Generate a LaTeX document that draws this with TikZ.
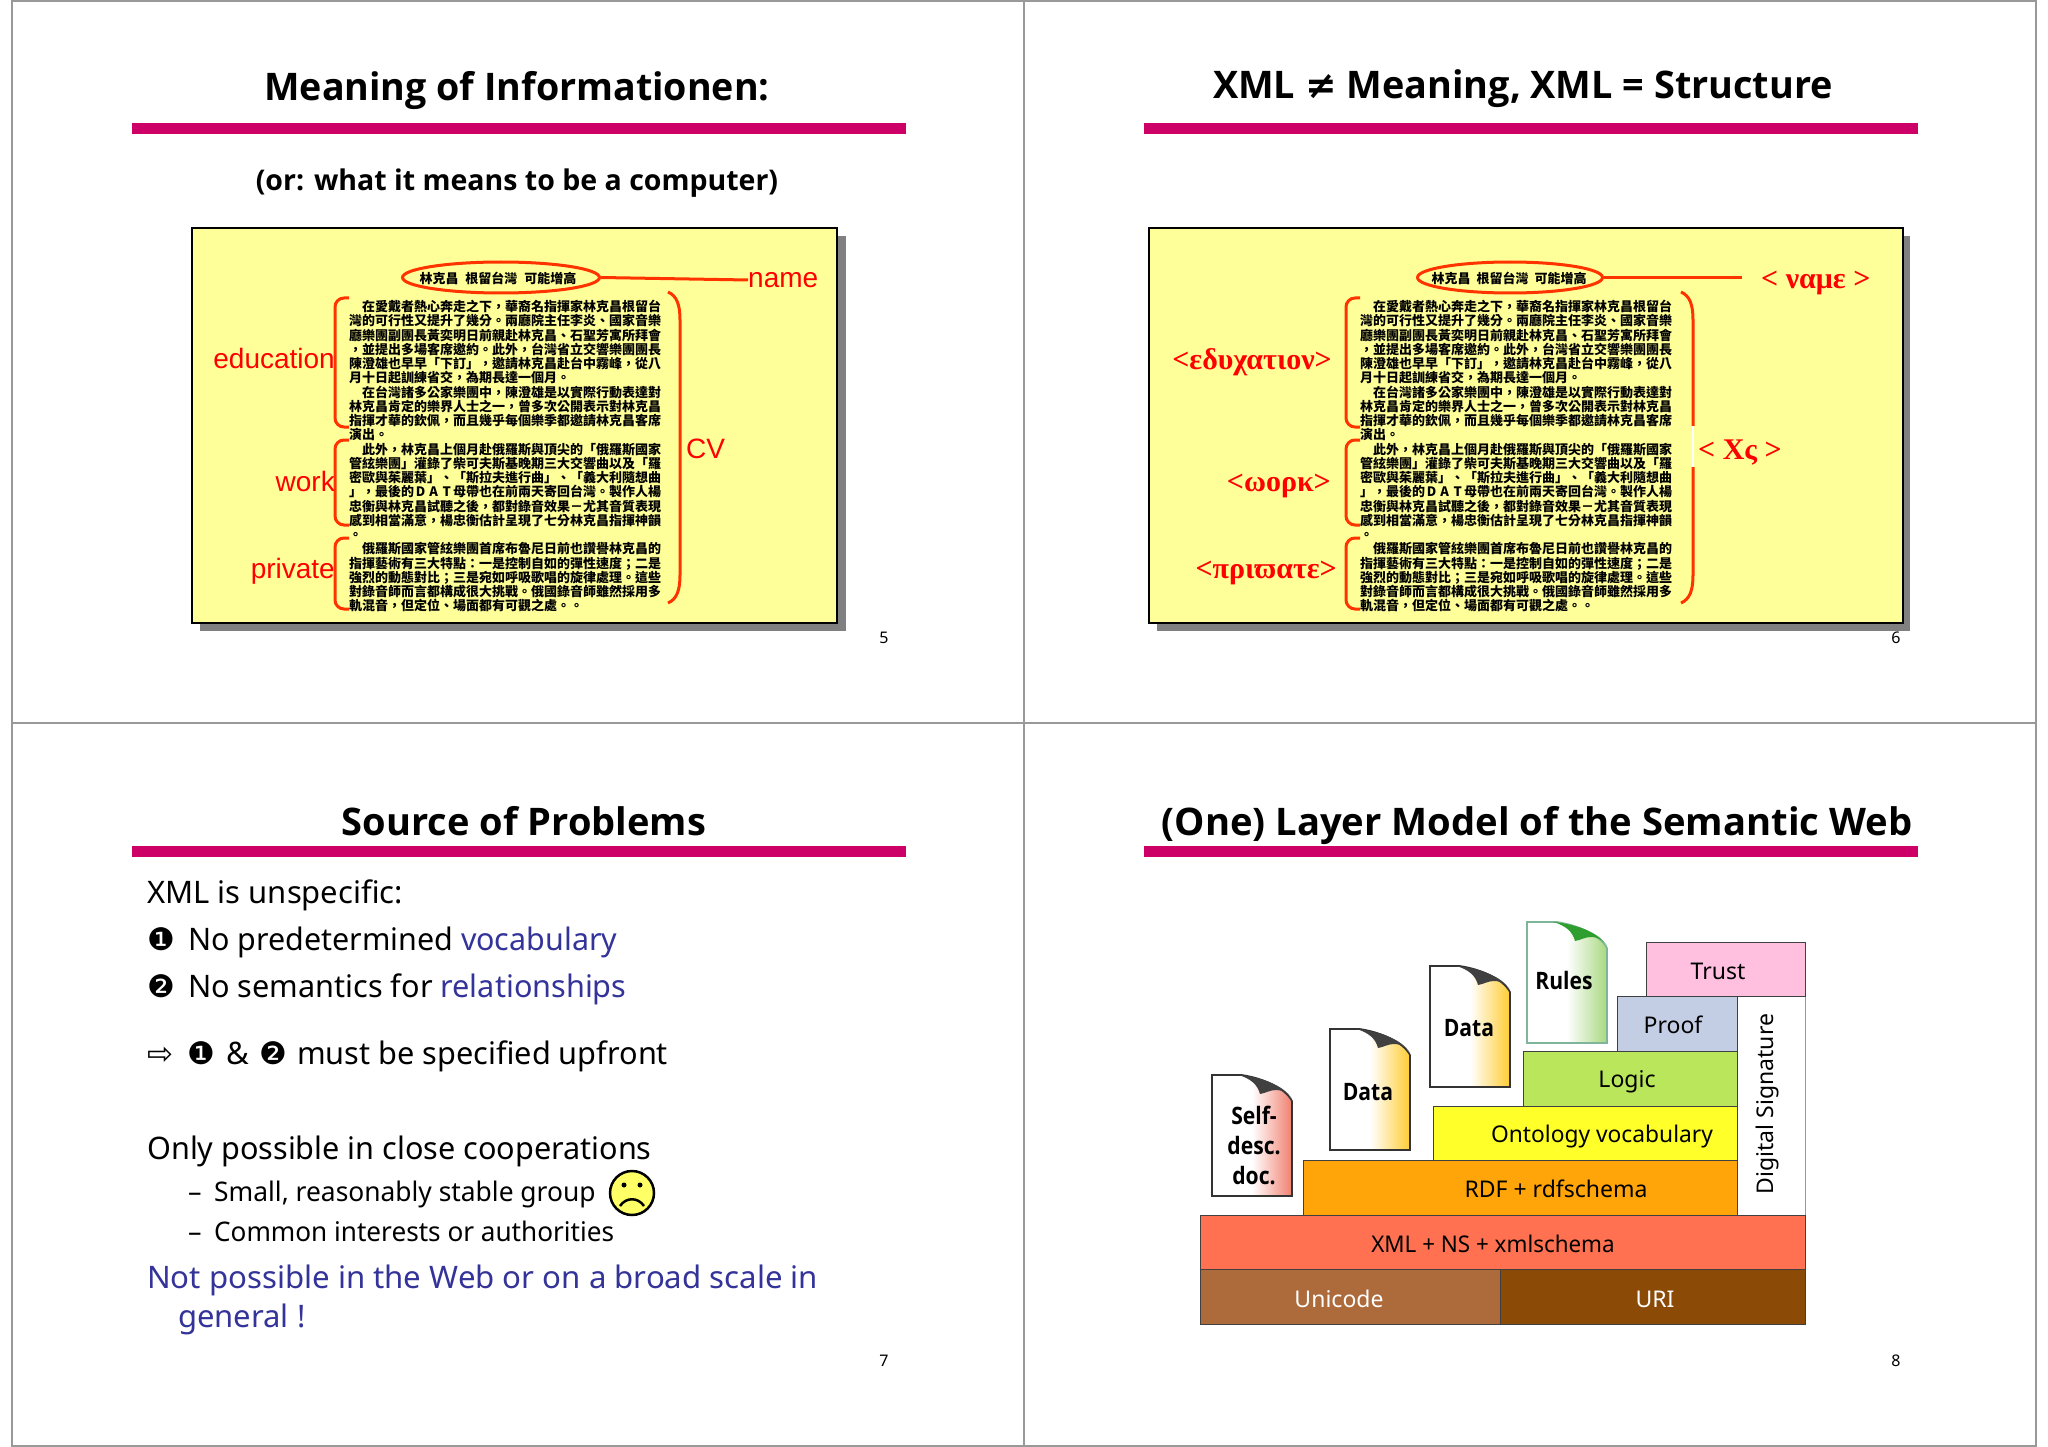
\documentclass[tikz,border=0pt]{standalone}
\usepackage{fontspec}
\usepackage{graphicx}
\usetikzlibrary{shapes.geometric}
\setmainfont{Noto Sans}
\newfontfamily\bodyf{Noto Sans}
\newfontfamily\ttlf{Open Sans}
\newfontfamily\lblf{Liberation Sans}
\newfontfamily\grkf{Liberation Serif}
\newfontfamily\cjk{Noto Sans CJK TC}
\newfontfamily\symf{DejaVu Sans}
\newcommand{\sx}[2]{\scalebox{#1}[1]{#2}}
\definecolor{barc}{HTML}{CC0066}
\definecolor{gridc}{HTML}{999999}
\definecolor{slideyel}{HTML}{FFFF99}
\definecolor{redl}{HTML}{FF0000}
\definecolor{redb}{HTML}{FF3300}
\definecolor{bluet}{HTML}{333399}
\definecolor{shadowc}{HTML}{808080}
\definecolor{cUni}{HTML}{AD6A3A}
\definecolor{cUri}{HTML}{8B4A06}
\definecolor{cXml}{HTML}{FF7150}
\definecolor{cRdf}{HTML}{FFA50A}
\definecolor{cOnt}{HTML}{FFFF2A}
\definecolor{cLog}{HTML}{B9E65A}
\definecolor{cPrf}{HTML}{C3CDE4}
\definecolor{cTru}{HTML}{FFC0E0}
\definecolor{cDocR}{HTML}{F08070}
\definecolor{cDocY}{HTML}{FFCC33}
\definecolor{cDocG}{HTML}{A8D880}
\definecolor{cCurl}{HTML}{404040}
\definecolor{cCurlG}{HTML}{2E9E2E}
\definecolor{cRuleB}{HTML}{7FB59A}
\definecolor{cSmile}{HTML}{FFFF66}
\tikzset{
  gridline/.style={draw=gridc,line width=2pt},
  titlebar/.style={fill=barc,draw=none},
  slidetitle/.style={font=\ttlf\bfseries\fontsize{38}{44}\selectfont,text=black,inner sep=0pt,anchor=base},
  pagenum/.style={font=\bodyf\fontsize{16}{18}\selectfont,inner sep=0pt},
  slideframe/.style={fill=slideyel,draw=black,line width=2.5pt},
  frameshadow/.style={fill=shadowc,draw=none},
  redlbl/.style={font=\lblf\fontsize{28}{32}\selectfont,text=redl,inner sep=0pt},
  grklbl/.style={font=\grkf\bfseries\fontsize{30}{34}\selectfont,text=redl,inner sep=0pt},
  bracket/.style={draw=redb,line width=3pt,rounded corners=9pt},
  rbracket/.style={draw=redb,line width=3pt},
  ringe/.style={ellipse,draw=redb,line width=3pt,inner sep=0pt,fill=none},
  redline/.style={draw=redb,line width=3pt},
  cvblock/.style={align=left,inner sep=0pt,anchor=north west,font=\cjk\bfseries\fontsize{13}{14.25}\selectfont,text=black},
  cvhead/.style={inner sep=0pt,font=\cjk\bfseries\fontsize{13}{14}\selectfont,text=black},
  bodytext/.style={font=\bodyf\fontsize{31}{36}\selectfont,inner sep=0pt,anchor=base west},
  subtext/.style={font=\bodyf\fontsize{27}{32}\selectfont,inner sep=0pt,anchor=base west},
  layer/.style={draw=black!75,line width=1pt},
  layertext/.style={font=\bodyf\fontsize{23}{27}\selectfont,inner sep=0pt},
  doctext/.style={font=\ttlf\bfseries\fontsize{24}{30}\selectfont,inner sep=0pt,align=center},
}
\newcommand{\datw}{\makebox[13pt]{D}\makebox[13pt]{A}\makebox[13pt]{T}}
\newcommand{\cvlines}{%
　在愛戴者熱心奔走之下，華裔名指揮家林克昌根留台\\
灣的可行性又提升了幾分。兩廳院主任李炎、國家音樂\\
廳樂團副團長黃奕明日前親赴林克昌、石聖芳寓所拜會\\
，並提出多場客席邀約。此外，台灣省立交響樂團團長\\
陳澄雄也早早「下訂」，邀請林克昌赴台中霧峰，從八\\
月十日起訓練省交，為期長達一個月。\\
　在台灣諸多公家樂團中，陳澄雄是以實際行動表達對\\
林克昌肯定的樂界人士之一，曾多次公開表示對林克昌\\
指揮才華的欽佩，而且幾乎每個樂季都邀請林克昌客席\\
演出。\\
　此外，林克昌上個月赴俄羅斯與頂尖的「俄羅斯國家\\
管絃樂團」灌錄了柴可夫斯基晚期三大交響曲以及「羅\\
密歐與茱麗葉」、「斯拉夫進行曲」、「義大利隨想曲\\
」，最後的\datw 母帶也在前兩天寄回台灣。製作人楊\\
忠衡與林克昌試聽之後，都對錄音效果－尤其音質表現\\
感到相當滿意，楊忠衡估計呈現了七分林克昌指揮神韻\\
。\\
　俄羅斯國家管絃樂團首席布魯尼日前也讚譽林克昌的\\
指揮藝術有三大特點：一是控制自如的彈性速度；二是\\
強烈的動態對比；三是宛如呼吸歌唱的旋律處理。這些\\
對錄音師而言都構成很大挑戰。俄國錄音師雖然採用多\\
軌混音，但定位、場面都有可觀之處。。}
% doc shape: x y fill border curl
\newcommand{\docshape}[5]{%
  \begin{scope}[shift={(#1,#2)}]
    \path[draw=#4,line width=1.6pt,left color=white,right color=#3,middle color=white]
      (0,0) -- (30,0) .. controls (50,3) and (72,12) .. (80,26) -- (80,121) -- (0,121) -- cycle;
    \fill[#5] (26,0) .. controls (48,2) and (72,10) .. (80,24)
      .. controls (78,20) and (72,15) .. (64,15)
      .. controls (58,15) and (54,18) .. (48,19)
      .. controls (46,10) and (38,3) .. (26,0) -- cycle;
  \end{scope}}
\begin{document}
\begin{tikzpicture}[x=1pt,y=-1pt]
\useasboundingbox (0,0) rectangle (2048,1447);
\fill[white] (0,0) rectangle (2048,1447);
% grid
\draw[gridline] (12,1) -- (2036,1) -- (2036,1446) -- (12,1446) -- cycle;
\draw[gridline] (1024,1) -- (1024,1446);
\draw[gridline] (12,723) -- (2036,723);
% bars
\fill[titlebar] (132,123) rectangle (906,134);
\fill[titlebar] (1144,123) rectangle (1918,134);
\fill[titlebar] (132,846) rectangle (906,857);
\fill[titlebar] (1144,846) rectangle (1918,857);
% titles
\node[slidetitle] (t1) at (517,101) {\sx{0.99}{Meaning of Informationen:}};
\node[slidetitle] (t2) at (1523,99) {\sx{0.995}{XML {\symf ≠} Meaning, XML = Structure}};
\node[slidetitle] (t3) at (524,835) {Source of Problems};
\node[slidetitle] (t4) at (1537,835) {\sx{1.005}{(One) Layer Model of the Semantic Web}};
\node[font=\ttlf\bfseries\fontsize{28.5}{34}\selectfont,inner sep=0pt] (sub1) at (517,183) {(or: what it means to be a computer)};
% page numbers
\node[pagenum] (p5) at (884,638) {5};
\node[pagenum] (p6) at (1896,638) {6};
\node[pagenum] (p7) at (884,1361) {7};
\node[pagenum] (p8) at (1896,1361) {8};
% slide 1
\fill[frameshadow] (200,236) rectangle (846,631);
\draw[slideframe] (192,228) rectangle (837,623);
\node[cvhead] (h1) at (498,278) {林克昌\hspace{7pt}根留台灣\hspace{7pt}可能增高};
\node[ringe,minimum width=197pt,minimum height=31pt] (e1) at (501,277.5) {};
\node[redlbl,anchor=west] (name1) at (748,280) {name};
\draw[redline] (e1.east) -- (name1.west);
\node[cvblock] (cv1) at (349,300) {\cvlines};
\draw[bracket] (349,298) -- (335,298) -- (335,427) -- (349,427);
\draw[bracket] (349,440) -- (335,440) -- (335,525) -- (349,525);
\draw[bracket] (349,538) -- (335,538) -- (335,609) -- (349,609);
\draw[rbracket] (668,292) .. controls (677,296) and (680,305) .. (680,320) -- (680,575) .. controls (680,590) and (677,599) .. (668,603);
\node[redlbl,anchor=east] (edu1) at (335,358) {education};
\node[redlbl,anchor=east] (wrk1) at (335,481) {work};
\node[redlbl,anchor=east] (pri1) at (335,571) {private};
\node[redlbl,anchor=west] (cvl) at (686,449) {CV};
% slide 2
\fill[frameshadow] (1157,236) rectangle (1910,631);
\draw[slideframe] (1149,228) rectangle (1903,623);
\node[cvhead] (h2) at (1509,278) {林克昌\hspace{6pt}根留台灣\hspace{6pt}可能增高};
\node[ringe,minimum width=185pt,minimum height=31pt] (e2) at (1510,277.5) {};
\coordinate (n2end) at (1742,277.5);
\draw[redline] (e2.east) -- (n2end);
\node[grklbl,anchor=west] (name2) at (1761,283) {< ναμε >};
\node[cvblock] (cv2) at (1360,300) {\cvlines};
\draw[bracket] (1360,298) -- (1346,298) -- (1346,427) -- (1360,427);
\draw[bracket] (1360,440) -- (1346,440) -- (1346,525) -- (1360,525);
\draw[bracket] (1360,538) -- (1346,538) -- (1346,609) -- (1360,609);
\draw[rbracket] (1681,292) .. controls (1690,296) and (1693,305) .. (1693,320) -- (1693,426);
\draw[rbracket] (1693,467) -- (1693,575) .. controls (1693,590) and (1690,599) .. (1681,603);
\draw[white,line width=1.5pt] (1693,426) -- (1693,467);
\node[grklbl,anchor=east] (edu2) at (1332,362) {<εδυχατιον>};
\node[grklbl,anchor=east] (wrk2) at (1331,486) {<ωορκ>};
\node[grklbl,anchor=east] (pri2) at (1337,573) {<πριϖατε>};
\node[grklbl,anchor=west] (xs2) at (1698,453) {< Χς >};
% slide 3
\node[bodytext] (l1) at (147,903) {XML is unspecific:};
\node[bodytext] (b1) at (147,950) {{\symf ❶}};
\node[bodytext] (l2) at (188,950) {\sx{0.982}{No predetermined \textcolor{bluet}{vocabulary}}};
\node[bodytext] (b2) at (147,997) {{\symf ❷}};
\node[bodytext] (l3) at (188,997) {\sx{0.988}{No semantics for \textcolor{bluet}{relationships}}};
\node[bodytext] (l4a) at (147,1064) {{\symf ⇨}};
\node[bodytext] (l4b) at (187,1064) {{\symf ❶}};
\node[bodytext] (l4c) at (226,1064) {\&};
\node[bodytext] (l4d) at (259,1064) {{\symf ❷}};
\node[bodytext] (l4e) at (297,1064) {\sx{0.99}{must be specified upfront}};
\node[bodytext] (l5) at (147,1159) {\sx{0.987}{Only possible in close cooperations}};
\node[subtext] (d6) at (188,1201) {–};
\node[subtext] (l6) at (214,1201) {\sx{0.977}{Small, reasonably stable group}};
\node[subtext] (d7) at (188,1241) {–};
\node[subtext] (l7) at (214,1241) {\sx{0.968}{Common interests or authorities}};
\node[bodytext,text=bluet] (l8) at (147,1288) {\sx{1.006}{Not possible in the Web or on a broad scale in}};
\node[bodytext,text=bluet] (l9) at (178,1327) {general !};
\node[circle,draw=black,fill=cSmile,line width=2.5pt,minimum size=44pt,inner sep=0pt] (sm) at (632,1193) {};
\fill (624,1185) circle (2.5pt);
\fill (640,1185) circle (2.5pt);
\draw[line width=2.5pt] (620,1206) .. controls (626,1197) and (638,1197) .. (644,1206);
% slide 4 layers
\path[layer,fill=white,draw=gridc] (1737,996) rectangle (1805,1215);
\path[layer,fill=cTru] (1646,942) rectangle (1805,996);
\path[layer,fill=cPrf] (1617,996) rectangle (1737,1051);
\path[layer,fill=cLog] (1523,1051) rectangle (1737,1106);
\path[layer,fill=cOnt] (1433,1106) rectangle (1737,1160);
\path[layer,fill=cRdf] (1303,1160) rectangle (1737,1215);
\path[layer,fill=cXml] (1200,1215) rectangle (1805,1269);
\path[layer,fill=cUni] (1200,1269) rectangle (1500,1324);
\path[layer,fill=cUri] (1500,1269) rectangle (1805,1324);
\node[layertext,text=white] (ln1) at (1339,1299) {Unicode};
\node[layertext,text=white] (ln2) at (1655,1299) {URI};
\node[layertext] (ln3) at (1493,1244) {\sx{0.974}{XML + NS + xmlschema}};
\node[layertext] (ln4) at (1556,1189) {RDF + rdfschema};
\node[layertext] (ln5) at (1602,1137) {\sx{0.99}{Ontology vocabulary}};
\node[layertext] (ln6) at (1627,1082) {Logic};
\node[layertext] (ln7) at (1673,1025) {Proof};
\node[layertext] (ln8) at (1718,971) {Trust};
\node[layertext,rotate=90] (ln9) at (1767,1104) {Digital Signature};
\docshape{1212}{1075}{cDocR}{black!80}{cCurl}
\docshape{1330}{1029}{cDocY}{black!80}{cCurl}
\docshape{1430}{966}{cDocY}{black!80}{cCurl}
\docshape{1527}{922}{cDocG}{cRuleB}{cCurlG}
\node[doctext] (d1) at (1254,1145) {\sx{0.88}{Self-}\\\sx{0.88}{desc.}\\\sx{0.88}{doc.}};
\node[doctext] (d2) at (1368,1092) {\sx{0.88}{Data}};
\node[doctext] (d3) at (1469,1028) {\sx{0.88}{Data}};
\node[doctext] (d4) at (1564,980) {\sx{0.88}{Rules}};
\end{tikzpicture}
\end{document}
